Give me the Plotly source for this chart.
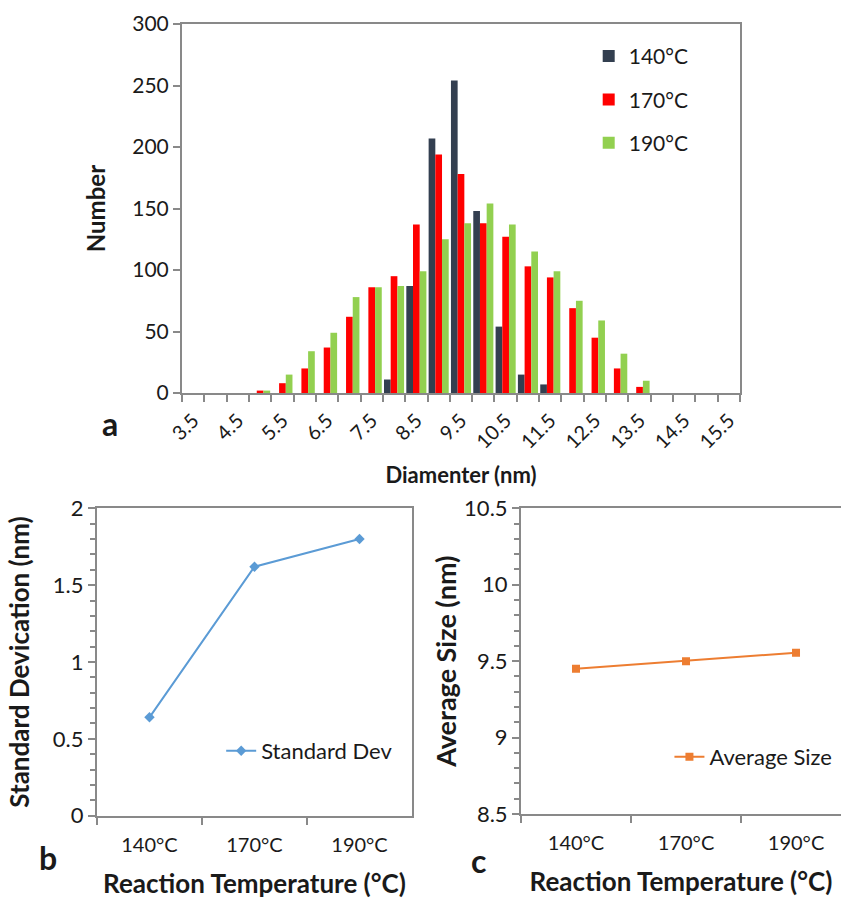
import plotly.graph_objects as go

# ---- data ----
diameters = ["3.5", "4", "4.5", "5", "5.5", "6", "6.5", "7", "7.5", "8", "8.5", "9", "9.5",
             "10", "10.5", "11", "11.5", "12", "12.5", "13", "13.5", "14", "14.5", "15", "15.5"]
count_140 = [0, 0, 0, 0, 0, 0, 0, 0, 0, 11, 87, 207, 254, 148, 54, 15, 7, 0, 0, 0, 0, 0, 0, 0, 0]
count_170 = [0, 0, 0, 2, 8, 20, 37, 62, 86, 95, 137, 194, 178, 138, 127, 103, 94, 69, 45, 20, 5, 0, 0, 0, 0]
count_190 = [0, 0, 0, 2, 15, 34, 49, 78, 86, 87, 99, 125, 138, 154, 137, 115, 99, 75, 59, 32, 10, 0, 0, 0, 0]
series_names = ["140°C", "170°C", "190°C"]

temperatures = ["140°C", "170°C", "190°C"]
std_dev = [0.64, 1.62, 1.80]
avg_size = [9.45, 9.50, 9.555]

# ---- style ----
FONT = "Lato"
AX = "#898989"
TXT = "#1a1a1a"
bar_colors = ["#333F50", "#FF0000", "#92D050"]

fig = go.Figure()

for name, vals, col in zip(series_names, [count_140, count_170, count_190], bar_colors):
    fig.add_trace(go.Bar(x=diameters, y=vals, name=name, marker=dict(color=col, line=dict(width=0)),
                         xaxis="x", yaxis="y", legend="legend", legendgroup=name))

fig.add_trace(go.Scatter(x=temperatures, y=std_dev, name="Standard Dev", mode="lines+markers",
                         line=dict(color="#5B9BD5", width=2),
                         marker=dict(symbol="diamond", size=8, color="#5B9BD5"),
                         xaxis="x2", yaxis="y2", legend="legend2"))
fig.add_trace(go.Scatter(x=temperatures, y=avg_size, name="Average Size", mode="lines+markers",
                         line=dict(color="#ED7D31", width=2),
                         marker=dict(symbol="square", size=8, color="#ED7D31"),
                         xaxis="x3", yaxis="y3", legend="legend3"))

common_axis = dict(showline=True, linecolor=AX, linewidth=2, showgrid=False, zeroline=False,
                   automargin=False,
                   ticks="outside", tickcolor=AX, tickwidth=2, ticklen=7,
                   tickfont=dict(family=FONT, size=22, color=TXT))

def bold(size):
    return dict(family=FONT, size=size, color=TXT, weight="bold")

fig.update_layout(
    width=841, height=899,
    margin=dict(l=0, r=0, t=0, b=0, autoexpand=False),
    paper_bgcolor="white", plot_bgcolor="white",
    barmode="group", bargap=0.1, bargroupgap=0,
    font=dict(family=FONT, color=TXT),
    xaxis=dict(common_axis, domain=[0.2164, 0.8799], anchor="y", mirror=True, type="category",
               tickmode="array", tickvals=diameters,
               ticktext=[d if i % 2 == 0 else "" for i, d in enumerate(diameters)],
               tickson="boundaries", tickangle=-45, ticklabelstandoff=6,
               tickfont=dict(family=FONT, size=20, color=TXT),
               title=dict(text="Diamenter (nm)", font=bold(22), standoff=16)),
    yaxis=dict(common_axis, domain=[0.5628, 0.9733], anchor="x", mirror=True,
               range=[0, 300], dtick=50,
               tickfont=dict(family=FONT, size=21, color=TXT),
               title=dict(text="Number", font=bold(24), standoff=20)),
    xaxis2=dict(common_axis, domain=[0.1153, 0.4899], anchor="y2", mirror=True, type="category",
                tickson="boundaries", range=[-0.5, 2.5], ticklabelstandoff=10,
                tickfont=dict(family=FONT, size=20, color=TXT),
                title=dict(text="Reaction Temperature (°C)", font=bold(26), standoff=20)),
    yaxis2=dict(common_axis, domain=[0.0927, 0.4346], anchor="x2", mirror=True,
                range=[0, 2], dtick=0.5,
                minor=dict(dtick=0.1, ticks="outside", ticklen=5, tickcolor=AX, tickwidth=2),
                title=dict(text="Standard Devication (nm)", font=bold(26), standoff=16)),
    xaxis3=dict(common_axis, domain=[0.6195, 1.0], anchor="y3", mirror=True, type="category",
                tickson="boundaries", range=[-0.5, 2.409], ticklabelstandoff=10,
                tickfont=dict(family=FONT, size=20, color=TXT),
                title=dict(text="Reaction Temperature (°C)", font=bold(26), standoff=20)),
    yaxis3=dict(common_axis, domain=[0.0945, 0.4346], anchor="x3", mirror=False,
                range=[8.5, 10.5], dtick=0.5,
                minor=dict(dtick=0.1, ticks="outside", ticklen=5, tickcolor=AX, tickwidth=2),
                title=dict(text="Average Size (nm)", font=bold(27), standoff=0)),
    legend=dict(x=0.700, y=0.960, xanchor="left", yanchor="top", bgcolor="rgba(0,0,0,0)",
                font=dict(family=FONT, size=21, color=TXT), tracegroupgap=13, traceorder="grouped"),
    legend2=dict(x=0.263, y=0.1646, xanchor="left", yanchor="middle", bgcolor="rgba(0,0,0,0)",
                 font=dict(family=FONT, size=22, color=TXT)),
    legend3=dict(x=0.796, y=0.158, xanchor="left", yanchor="middle", bgcolor="rgba(0,0,0,0)",
                 font=dict(family=FONT, size=22, color=TXT)),
    showlegend=True,
)

panel_font = dict(family=FONT, size=32, color=TXT, weight="bold")
for label, x, y in [("a", 110, 423), ("b", 48, 857), ("c", 478, 860)]:
    fig.add_annotation(text=label, x=x / 841, y=1 - y / 899, xref="paper", yref="paper",
                       showarrow=False, font=panel_font, xanchor="center", yanchor="middle")

fig.write_html("out.html")
